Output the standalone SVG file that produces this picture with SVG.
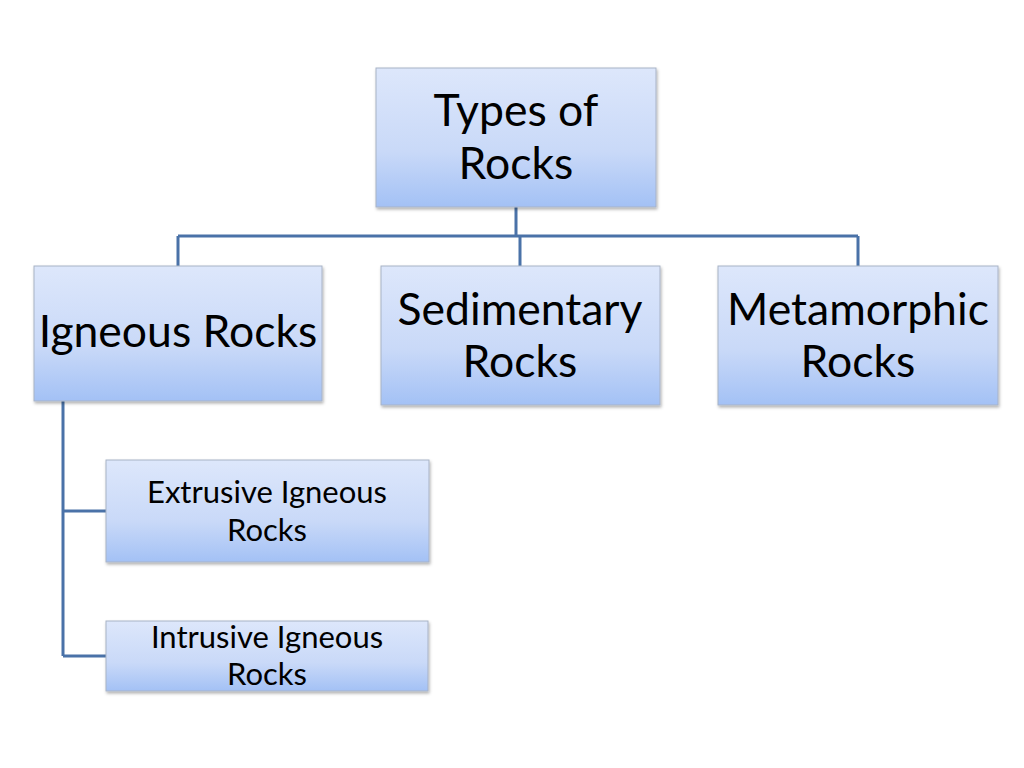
<svg xmlns="http://www.w3.org/2000/svg" width="1024" height="768" viewBox="0 0 1024 768">
<defs>
<linearGradient id="g" x1="0" y1="0" x2="0" y2="1">
<stop offset="0" stop-color="#dde7fb"/>
<stop offset="0.6" stop-color="#c9d9f8"/>
<stop offset="1" stop-color="#a3c1f5"/>
</linearGradient>
<filter id="sh" x="-5%" y="-5%" width="110%" height="115%">
<feDropShadow dx="1" dy="2" stdDeviation="1.5" flood-color="#000" flood-opacity="0.3"/>
</filter>
</defs>
<style>
.box{fill:url(#g);stroke:#a8b3c6;stroke-width:1;filter:url(#sh)}
.t{font-family:Lato,"Open Sans",sans-serif;fill:#000;text-anchor:middle}
.big{font-size:44.5px}
.small{font-size:31px}
.c{fill:none;stroke:#4a72a8;stroke-width:3}
</style>
<rect width="1024" height="768" fill="#fff"/>
<g id="connectors">
<path class="c" d="M516 207V236M178 236H858M178 236V266M520 236V266M858 236V266"/>
<path class="c" d="M63 401V656M63 511H106M63 656H106"/>
</g>
<g id="types">
<rect class="box" x="376" y="68" width="280" height="139"/>
<text class="t big" x="516" y="126">Types of</text>
<text class="t big" x="516" y="179">Rocks</text>
</g>
<g id="igneous">
<rect class="box" x="34" y="266" width="288" height="135"/>
<text class="t big" x="178" y="347">Igneous Rocks</text>
</g>
<g id="sedimentary">
<rect class="box" x="381" y="266" width="279" height="139"/>
<text class="t big" x="520" y="325">Sedimentary</text>
<text class="t big" x="520" y="377">Rocks</text>
</g>
<g id="metamorphic">
<rect class="box" x="718" y="266" width="280" height="139"/>
<text class="t big" x="858" y="325">Metamorphic</text>
<text class="t big" x="858" y="377">Rocks</text>
</g>
<g id="extrusive">
<rect class="box" x="106" y="460" width="323" height="102"/>
<text class="t small" x="267" y="503">Extrusive Igneous</text>
<text class="t small" x="267" y="541">Rocks</text>
</g>
<g id="intrusive">
<rect class="box" x="106" y="621" width="322" height="70"/>
<text class="t small" x="267" y="648">Intrusive Igneous</text>
<text class="t small" x="267" y="685">Rocks</text>
</g>
</svg>
